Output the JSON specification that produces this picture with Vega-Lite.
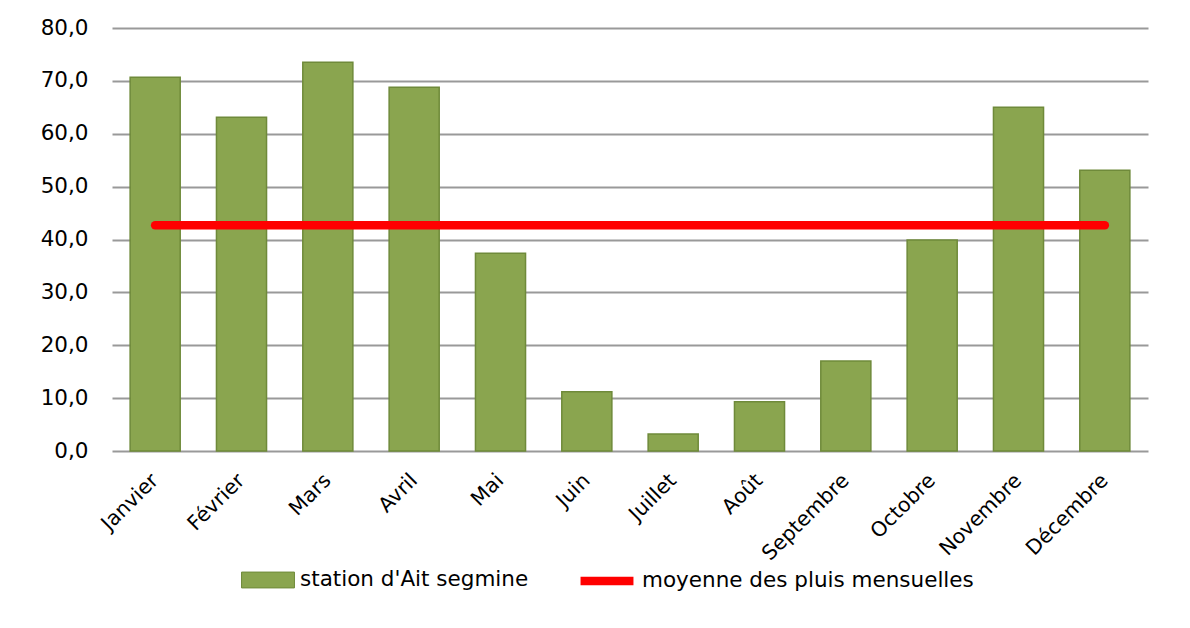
{
  "$schema": "https://vega.github.io/schema/vega-lite/v6.json",
  "width": 1036,
  "height": 423,
  "autosize": {"type": "none"},
  "padding": {"left": 112, "top": 28, "right": 42, "bottom": 177},
  "background": "white",
  "config": {
    "view": {"stroke": null},
    "font": "DejaVu Sans",
    "axis": {"labelFont": "DejaVu Sans", "labelColor": "#000000"},
    "legend": {"labelFont": "DejaVu Sans", "labelColor": "#000000", "labelLimit": 500}
  },
  "data": {
    "values": [
      {"mois": "Janvier", "pluie": 70.7, "moyenne": 42.7},
      {"mois": "Février", "pluie": 63.1, "moyenne": 42.7},
      {"mois": "Mars", "pluie": 73.5, "moyenne": 42.7},
      {"mois": "Avril", "pluie": 68.8, "moyenne": 42.7},
      {"mois": "Mai", "pluie": 37.4, "moyenne": 42.7},
      {"mois": "Juin", "pluie": 11.2, "moyenne": 42.7},
      {"mois": "Juillet", "pluie": 3.2, "moyenne": 42.7},
      {"mois": "Août", "pluie": 9.3, "moyenne": 42.7},
      {"mois": "Septembre", "pluie": 17.0, "moyenne": 42.7},
      {"mois": "Octobre", "pluie": 39.9, "moyenne": 42.7},
      {"mois": "Novembre", "pluie": 65.0, "moyenne": 42.7},
      {"mois": "Décembre", "pluie": 53.1, "moyenne": 42.7}
    ]
  },
  "encoding": {
    "x": {
      "field": "mois",
      "type": "nominal",
      "sort": null,
      "scale": {"paddingInner": 0.42, "paddingOuter": 0.21},
      "axis": {
        "title": null,
        "labelAngle": -45,
        "labelAlign": "right",
        "labelBaseline": "middle",
        "labelFontSize": 20.5,
        "labelPadding": 26,
        "labelDy": 17,
        "labelLimit": 300,
        "ticks": false,
        "domain": false,
        "grid": false
      }
    }
  },
  "layer": [
    {
      "mark": {"type": "bar", "fill": "#8aa54f", "stroke": "#6f8a3a", "strokeWidth": 1.5},
      "encoding": {
        "y": {
          "field": "pluie",
          "type": "quantitative",
          "scale": {"domain": [0, 80], "nice": false},
          "axis": {
            "title": null,
            "values": [0, 10, 20, 30, 40, 50, 60, 70, 80],
            "labelExpr": "replace(format(datum.value, '.1f'), '.', ',')",
            "labelFontSize": 21.5,
            "labelPadding": 24,
            "ticks": false,
            "domain": false,
            "grid": true,
            "gridColor": "#999999",
            "gridWidth": 2
          }
        },
        "fill": {
          "datum": "station d'Ait segmine",
          "type": "nominal",
          "scale": {"range": ["#8aa54f"]},
          "legend": {
            "title": null,
            "orient": "none",
            "legendX": 129,
            "legendY": 525,
            "labelFontSize": 21.5,
            "symbolType": "M-1,-0.3H1V0.3H-1Z",
            "symbolSize": 2800,
            "symbolStrokeColor": "#6f8a3a",
            "symbolStrokeWidth": 1,
            "labelOffset": 5
          }
        }
      }
    },
    {
      "mark": {"type": "line", "strokeWidth": 8.5, "strokeCap": "round"},
      "encoding": {
        "y": {"field": "moyenne", "type": "quantitative"},
        "stroke": {
          "datum": "moyenne des pluis mensuelles",
          "type": "nominal",
          "scale": {"range": ["#ff0000"]},
          "legend": {
            "title": null,
            "orient": "none",
            "legendX": 464,
            "legendY": 522,
            "labelFontSize": 21.5,
            "symbolType": "stroke",
            "symbolSize": 2800,
            "symbolStrokeWidth": 8.5,
            "labelOffset": 4
          }
        }
      }
    }
  ]
}
